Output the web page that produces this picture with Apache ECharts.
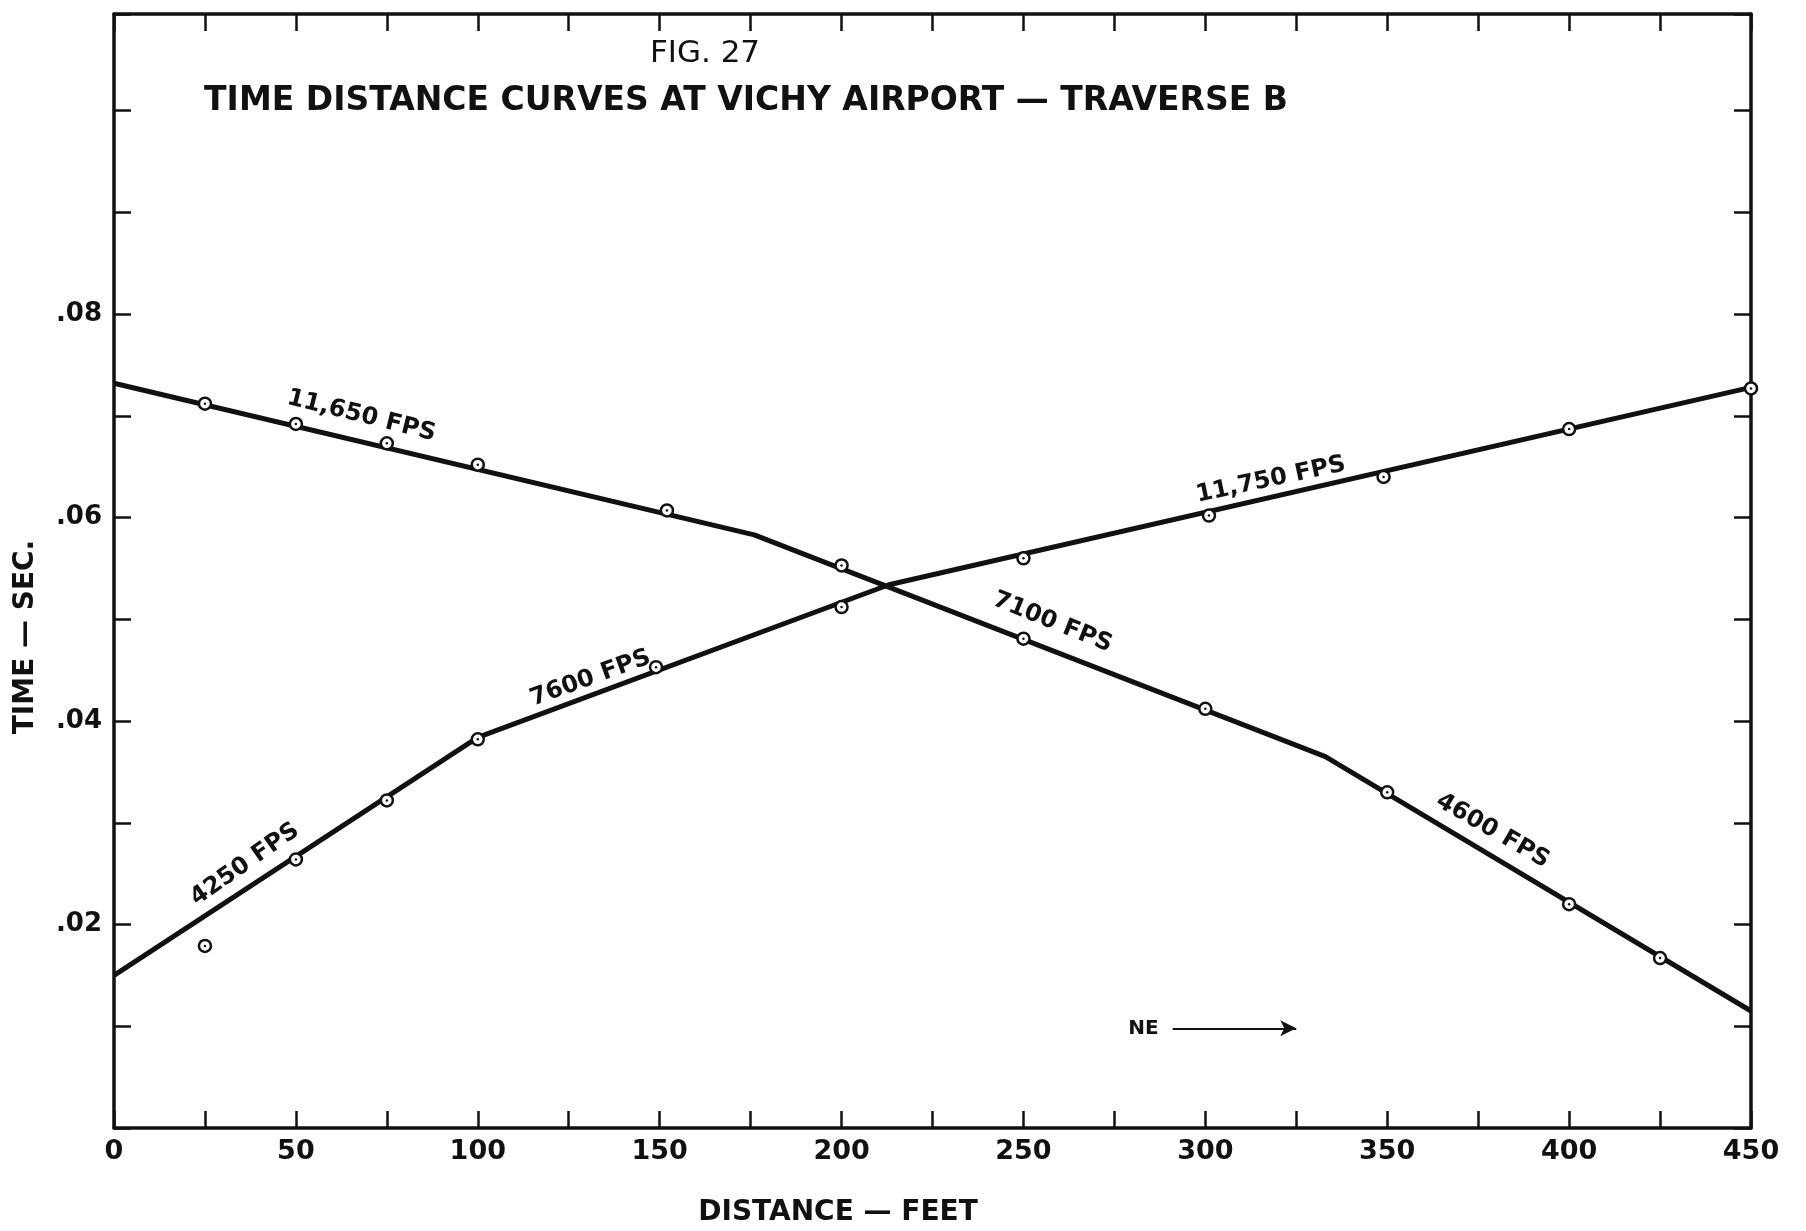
<!DOCTYPE html>
<html>
<head>
<meta charset="utf-8">
<script src="https://cdn.jsdelivr.net/npm/echarts@6/dist/echarts.min.js"></script>
<style>
html,body{margin:0;padding:0;background:#fff;}
#chart{width:1806px;height:1231px;}
</style>
</head>
<body>
<div id="chart"></div>
<script>
// ---- data ----
// observed points, traverse shot from the SW end (times decrease with distance)
const distA = [25, 50, 75, 100, 152, 200, 250, 300, 350, 400, 425];
const timeA = [0.0712, 0.0692, 0.0673, 0.0652, 0.0607, 0.0553, 0.0481, 0.0412, 0.0330, 0.0220, 0.0167];
// observed points, shot from the other end (times increase with distance)
const distB = [25, 50, 75, 100, 149, 200, 250, 301, 349, 400, 450];
const timeB = [0.0179, 0.0264, 0.0322, 0.0382, 0.0453, 0.0512, 0.0560, 0.0602, 0.0640, 0.0687, 0.0727];
// fitted velocity segments (breakpoints)
const fitDistA = [0, 176, 333, 450];
const fitTimeA = [0.0732, 0.0583, 0.0365, 0.0115];
const fitDistB = [0, 100, 213, 450];
const fitTimeB = [0.0150, 0.0384, 0.0534, 0.0728];
// velocity annotations
const annoText = ['11,650 FPS', '11,750 FPS', '7600 FPS', '4250 FPS', '7100 FPS', '4600 FPS'];
const annoDist = [68, 318, 131, 36, 258, 379];
const annoTime = [0.0700, 0.0637, 0.0442, 0.0259, 0.0497, 0.0292];
// direction note
const dirText = 'NE';
const dirDist = [283, 291, 325];
const dirTime = 0.0098;
// axis tick labels
const xTickLabels = ['0', '50', '100', '150', '200', '250', '300', '350', '400', '450'];
const yTickLabels = ['.02', '.04', '.06', '.08'];

// ---- chart ----
const INK = '#111';
const FONT = 'DejaVu Sans';
const zip = (xs, ys) => xs.map((x, i) => [x, ys[i]]);
const annoRotate = [-14, 12, 20, 35, -22, -30];

const chart = echarts.init(document.getElementById('chart'), null, {renderer: 'canvas'});

const axisLine = {show: true, onZero: false, lineStyle: {color: INK, width: 3.5}};
const axisTick = {show: true, inside: true, length: 17, lineStyle: {color: INK, width: 2.5}};

const option = {
  animation: false,
  backgroundColor: '#fff',
  grid: {left: 114, right: 55, top: 14, bottom: 103},
  xAxis: [{
    type: 'value', min: 0, max: 450, interval: 25, position: 'bottom',
    axisLine, axisTick, splitLine: {show: false},
    axisLabel: {
      margin: 10, color: INK, fontFamily: FONT, fontWeight: 'bold', fontSize: 27,
      formatter: v => { const i = xTickLabels.indexOf(String(Math.round(v))); return i >= 0 ? xTickLabels[i] : ''; }
    }
  }, {
    type: 'value', min: 0, max: 450, interval: 25, position: 'top',
    axisLine, axisTick, splitLine: {show: false}, axisLabel: {show: false}
  }],
  yAxis: [{
    type: 'value', min: 0, max: 0.1095, interval: 0.01, position: 'left',
    axisLine, axisTick, splitLine: {show: false},
    axisLabel: {
      margin: 12, color: INK, fontFamily: FONT, fontWeight: 'bold', fontSize: 26,
      formatter: v => { const s = '.0' + Math.round(v * 100); return yTickLabels.indexOf(s) >= 0 ? s : ''; }
    }
  }, {
    type: 'value', min: 0, max: 0.1095, interval: 0.01, position: 'right',
    axisLine, axisTick, splitLine: {show: false}, axisLabel: {show: false}
  }],
  series: [
    {type: 'line', name: 'fit A', data: zip(fitDistA, fitTimeA), symbol: 'none',
     lineStyle: {color: INK, width: 5}, z: 2},
    {type: 'line', name: 'fit B', data: zip(fitDistB, fitTimeB), symbol: 'none',
     lineStyle: {color: INK, width: 5}, z: 2},
    {type: 'scatter', name: 'points A', data: zip(distA, timeA), symbol: 'circle', symbolSize: 12,
     itemStyle: {color: '#fff', borderColor: INK, borderWidth: 2.5, opacity: 1}, z: 3},
    {type: 'scatter', name: 'points B', data: zip(distB, timeB), symbol: 'circle', symbolSize: 12,
     itemStyle: {color: '#fff', borderColor: INK, borderWidth: 2.5, opacity: 1}, z: 3},
    {type: 'scatter', name: 'centres', data: zip(distA, timeA).concat(zip(distB, timeB)), symbol: 'circle', symbolSize: 2.5,
     itemStyle: {color: INK, opacity: 1}, z: 4},
    {type: 'scatter', name: 'velocities', symbolSize: 0, z: 5, itemStyle: {opacity: 1},
     data: annoText.map((t, i) => ({
       value: [annoDist[i], annoTime[i]],
       label: {show: true, position: 'inside', formatter: t, rotate: annoRotate[i],
               color: INK, fontFamily: FONT, fontWeight: 'bold', fontSize: 24}
     }))},
    {type: 'scatter', name: 'direction', symbolSize: 0, z: 5, itemStyle: {opacity: 1},
     data: [{value: [dirDist[0], dirTime],
             label: {show: true, position: 'inside', formatter: dirText, color: INK,
                     fontFamily: FONT, fontWeight: 'bold', fontSize: 20}}],
     markLine: {
       silent: true, symbol: ['none', 'arrow'], symbolSize: [12, 16],
       lineStyle: {color: INK, width: 2, type: 'solid', opacity: 1}, label: {show: false},
       data: [[{coord: [dirDist[1], dirTime]}, {coord: [dirDist[2], dirTime]}]]
     }}
  ],
  graphic: [
    {type: 'text', x: 705, y: 54, style: {text: 'FIG. 27', fill: INK, font: '31px "DejaVu Sans"', textAlign: 'center', textVerticalAlign: 'middle'}},
    {type: 'text', x: 746, y: 101, style: {text: 'TIME DISTANCE CURVES AT VICHY AIRPORT — TRAVERSE B', fill: INK, font: 'bold 33px "DejaVu Sans"', textAlign: 'center', textVerticalAlign: 'middle'}},
    {type: 'text', x: 838, y: 1213, style: {text: 'DISTANCE — FEET', fill: INK, font: 'bold 28px "DejaVu Sans"', textAlign: 'center', textVerticalAlign: 'middle'}},
    {type: 'text', x: 26, y: 637, rotation: Math.PI / 2, style: {text: 'TIME — SEC.', fill: INK, font: 'bold 28px "DejaVu Sans"', textAlign: 'center', textVerticalAlign: 'middle'}}
  ]
};
chart.setOption(option);
</script>
</body>
</html>
